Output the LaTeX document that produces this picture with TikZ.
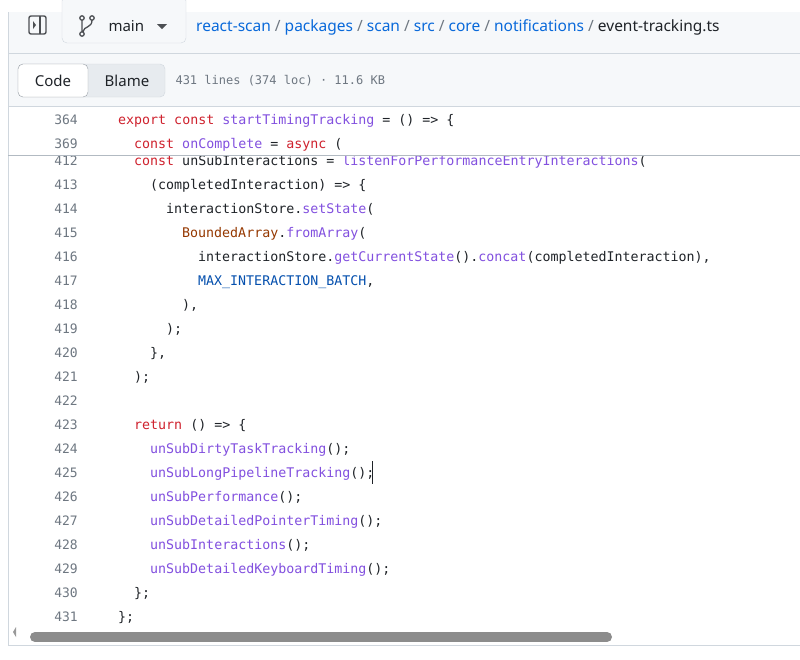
\documentclass[tikz,border=0pt]{standalone}
\usepackage{fontspec}
\setmainfont{Noto Sans}
\newfontfamily\codefont{DejaVu Sans Mono}
\definecolor{kw}{HTML}{CF222E}
\definecolor{fn}{HTML}{8250DF}
\definecolor{cst}{HTML}{0550AE}
\definecolor{cls}{HTML}{953800}
\definecolor{txt}{HTML}{1F2328}
\definecolor{lnum}{HTML}{6E7781}
\definecolor{lnk}{HTML}{0969DA}
\definecolor{bord}{HTML}{D0D7DE}
\definecolor{hdr}{HTML}{F6F8FA}
\newcommand{\K}[1]{\textcolor{kw}{#1}}
\newcommand{\F}[1]{\textcolor{fn}{#1}}
\newcommand{\C}[1]{\textcolor{cst}{#1}}
\newcommand{\B}[1]{\textcolor{cls}{#1}}
\begin{document}
\begin{tikzpicture}[x=1pt,y=-1pt,
  num/.style={anchor=base east,font=\codefont\fontsize{13}{15}\selectfont,text=lnum,inner sep=0},
  code/.style={anchor=base west,font=\codefont\fontsize{13.3}{15}\selectfont,text=txt,inner sep=0}]
\useasboundingbox (0,0) rectangle (800,659);
\fill[white] (0,0) rectangle (800,659);
\begin{scope}
\clip (0,0) rectangle (800,659);
% panel
\fill[hdr] (8,12) rectangle (805,106);
\draw[bord] (8,53) -- (805,53);
\draw[bord] (8,106) -- (805,106);
\draw[bord] (8,12) -- (8,645);
\draw[bord] (8,645) -- (805,645);
% sidebar icon
\draw[txt!80,line width=1.4pt,rounded corners=2pt] (29,16) rectangle (46,34);
\draw[txt!80,line width=1.4pt] (40,16) -- (40,34);
\fill[txt!80] (33,21) -- (36,25) -- (33,29) -- cycle;
% branch button
\draw[bord,fill=hdr,rounded corners=5pt] (62,-4) rectangle (186,43);
\node[text=txt,font=\large] (br) at (82,26) {};
\draw[txt!80,line width=1.3pt] (82,18) circle (2.2) (82,34) circle (2.2) (82,20.2) -- (82,31.8) (92,20.2) .. controls (92,28) and (84,26) .. (83,31.5);
\draw[txt!80,line width=1.3pt] (92,18) circle (2.2);
\node[anchor=base west,text=txt,font=\fontsize{15}{18}\selectfont\bfseries] (mn) at (105,31) {main};
\fill[txt!80] (157,24) -- (167,24) -- (162,29) -- cycle;
\node[anchor=base west,font=\fontsize{15.5}{18}\selectfont,inner sep=0] (path) at (196,31)
 {\textcolor{lnk}{\bfseries react-scan} \textcolor{lnum}{/} \textcolor{lnk}{packages} \textcolor{lnum}{/} \textcolor{lnk}{scan} \textcolor{lnum}{/} \textcolor{lnk}{src} \textcolor{lnum}{/} \textcolor{lnk}{core} \textcolor{lnum}{/} \textcolor{lnk}{notifications} \textcolor{lnum}{/} \textcolor{txt}{\bfseries event-tracking.ts}};
% code/blame
\draw[bord,fill=hdr!60!bord,rounded corners=5pt] (18,64) rectangle (165,97);
\draw[lnum!70,fill=white,rounded corners=5pt] (18,64) rectangle (88,97);
\node[text=txt,font=\fontsize{15}{18}\selectfont] (codeb) at (53,81) {Code};
\node[text=txt,font=\fontsize{15}{18}\selectfont] (blame) at (127,81) {Blame};
\node[anchor=west,text=lnum,font=\codefont\fontsize{12}{14}\selectfont] (info) at (172,81) {431 lines (374 loc) · 11.6 KB};
% code lines
\def\row#1#2#3#4{\node[num] at (78,#1+5) {#2}; \node[code] at (118+8*#3,#1+5) {#4};}
\row{119}{364}{0}{\K{export const} \F{startTimingTracking} = () => \{}
\row{143}{369}{2}{\K{const} \F{onComplete} = \K{async} (}
\begin{scope}
\clip (0,156) rectangle (800,170);
\row{160}{412}{2}{\K{const} unSubInteractions = \F{listenForPerformanceEntryInteractions}(}
\end{scope}
\draw[bord!70!lnum] (8,155.5) -- (800,155.5);
\row{184}{413}{4}{(completedInteraction) => \{}
\row{208}{414}{6}{interactionStore.\F{setState}(}
\row{232}{415}{8}{\B{BoundedArray}.\F{fromArray}(}
\row{256}{416}{10}{interactionStore.\F{getCurrentState}().\F{concat}(completedInteraction),}
\row{280}{417}{10}{\C{MAX\_INTERACTION\_BATCH},}
\row{304}{418}{8}{),}
\row{328}{419}{6}{);}
\row{352}{420}{4}{\},}
\row{376}{421}{2}{);}
\row{400}{422}{0}{}
\row{424}{423}{2}{\K{return} () => \{}
\row{448}{424}{4}{\F{unSubDirtyTaskTracking}();}
\row{472}{425}{4}{\F{unSubLongPipelineTracking}();}
\row{496}{426}{4}{\F{unSubPerformance}();}
\row{520}{427}{4}{\F{unSubDetailedPointerTiming}();}
\row{544}{428}{4}{\F{unSubInteractions}();}
\row{568}{429}{4}{\F{unSubDetailedKeyboardTiming}();}
\row{592}{430}{2}{\};}
\row{616}{431}{0}{\};}
\draw[txt,line width=1pt] (372,461) -- (372,484);
% scrollbar
\fill[gray!80] (16,637) -- (13,632) -- (16,627) -- cycle;
\draw[line width=10pt,line cap=round,color=black!45] (35,637) -- (607,637);
\end{scope}
\end{tikzpicture}
\end{document}
